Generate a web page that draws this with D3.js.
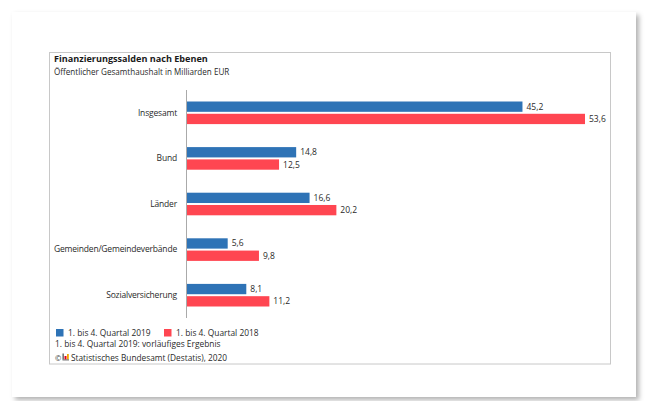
<!DOCTYPE html>
<html><head><meta charset="utf-8">
<script src="https://cdn.jsdelivr.net/npm/d3@7"></script>
<style>
html,body{margin:0;padding:0;background:#fff;}
svg{display:block;font-family:"Open Sans",sans-serif;}
</style></head>
<body>
<svg id="chart" width="650" height="401"></svg>
<script>
const categories = ["Insgesamt", "Bund", "Länder", "Gemeinden/Gemeindeverbände", "Sozialversicherung"];
const seriesNames = ["1. bis 4. Quartal 2019", "1. bis 4. Quartal 2018"];
const values2019 = [45.2, 14.8, 16.6, 5.6, 8.1];
const values2018 = [53.6, 12.5, 20.2, 9.8, 11.2];
const colors = ["#2e73b6", "#ff4651"];

const svg = d3.select("#chart");
const defs = svg.append("defs");
const f = defs.append("filter").attr("id","sh").attr("x","-5%").attr("y","-5%").attr("width","110%").attr("height","110%");
f.append("feDropShadow").attr("dx",3).attr("dy",3).attr("stdDeviation",2.5).attr("flood-color","#000").attr("flood-opacity",0.3);

// card
svg.append("rect").attr("x",12).attr("y",12).attr("width",624).attr("height",385)
  .attr("fill","#fff").attr("filter","url(#sh)");
// inner box
svg.append("rect").attr("x",49.5).attr("y",52.5).attr("width",561).attr("height",311.5)
  .attr("fill","#fff").attr("stroke","#c8c8c8").attr("stroke-width",1);

svg.append("text").attr("x",54).attr("y",61.5).attr("font-size",9.1).attr("font-weight","bold")
  .attr("fill","#1a1a1a").text("Finanzierungssalden nach Ebenen");
svg.append("text").attr("x",54).attr("y",74.5).attr("font-size",8.1)
  .attr("fill","#2a2a2a").text("Öffentlicher Gesamthaushalt in Milliarden EUR");

const y = d3.scaleBand().domain(categories).range([90, 318]).paddingInner(0).paddingOuter(0);
const inner = d3.scaleBand().domain(seriesNames).range([0, 22.6]).paddingInner(0.16);
const x = d3.scaleLinear().domain([0, 53.6]).range([186, 585]);
const innerOff = (y.bandwidth() - 22.6) / 2;

const data = categories.map((c,i)=>({cat:c, vals:[values2019[i], values2018[i]]}));

const g = svg.append("g");
const groups = g.selectAll("g.grp").data(data).join("g").attr("class","grp")
  .attr("transform", d=>`translate(0,${y(d.cat)+innerOff})`);
groups.selectAll("rect").data(d=>d.vals.map((v,j)=>({v, s:seriesNames[j], j})))
  .join("rect")
  .attr("x", x(0)).attr("y", d=>inner(d.s)).attr("width", d=>x(d.v)-x(0)).attr("height", inner.bandwidth())
  .attr("fill", d=>colors[d.j]);
groups.selectAll("text").data(d=>d.vals.map((v,j)=>({v, s:seriesNames[j], j})))
  .join("text")
  .attr("x", d=>x(d.v)+4).attr("y", d=>inner(d.s)+inner.bandwidth()/2)
  .attr("dy","0.35em").attr("font-size",8.5).attr("fill","#2a2a2a")
  .text(d=>d3.format(".1f")(d.v).replace(".", ","));

// axis
const yAxis = d3.axisLeft(y).tickSize(0).tickPadding(9);
const ax = svg.append("g").attr("transform",`translate(${x(0)},0)`).call(yAxis);
ax.select(".domain").attr("stroke","#aaa").attr("d","M0.5,90V318");
ax.selectAll("text").attr("font-size",8.5).attr("fill","#2a2a2a").attr("letter-spacing",-0.18)
  .attr("font-family","Open Sans, sans-serif");

// legend
const leg = svg.append("g");
const legX = [56, 164];
seriesNames.forEach((s,i)=>{
  leg.append("rect").attr("x",legX[i]).attr("y",329).attr("width",7.5).attr("height",7.5).attr("fill",colors[i]);
  leg.append("text").attr("x",legX[i]+12).attr("y",336).attr("font-size",8.4).attr("fill","#2a2a2a").text(s);
});
svg.append("text").attr("x",55).attr("y",346.5).attr("font-size",8.4).attr("fill","#2a2a2a")
  .text("1. bis 4. Quartal 2019: vorläufiges Ergebnis");
// footer with logo
const ft = svg.append("g");
ft.append("text").attr("x",55).attr("y",361).attr("font-size",7.5).attr("fill","#333").text("©");
ft.append("rect").attr("x",62.5).attr("y",353.5).attr("width",1.3).attr("height",6).attr("fill","#555");
ft.append("rect").attr("x",64.5).attr("y",356).attr("width",2).attr("height",3.5).attr("fill","#e2001a");
ft.append("rect").attr("x",67).attr("y",354).attr("width",1.8).attr("height",5.5).attr("fill","#f5a800");
ft.append("rect").attr("x",62.5).attr("y",359.5).attr("width",6.5).attr("height",0.9).attr("fill","#555");
ft.append("text").attr("x",71).attr("y",361).attr("font-size",8.3).attr("fill","#2a2a2a")
  .text("Statistisches Bundesamt (Destatis), 2020");
</script>
</body></html>
